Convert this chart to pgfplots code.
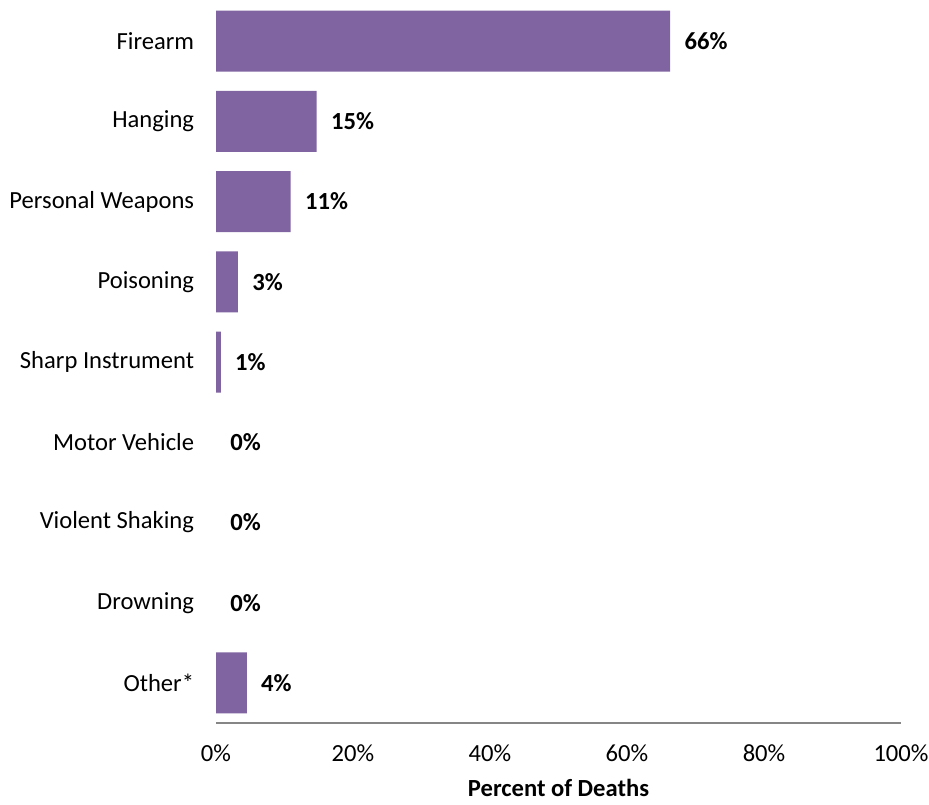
\documentclass[border=0pt]{standalone}
\usepackage{pgfplots}
\pgfplotsset{compat=1.18}
\usepackage{fontspec}
\setmainfont{Carlito}

\definecolor{barpurple}{HTML}{8064A2}
\definecolor{axisgray}{HTML}{868686}

\begin{document}
\begin{tikzpicture}[font=\fontsize{12.3pt}{14pt}\selectfont]
\useasboundingbox (0,0) rectangle (464.5pt,402pt);
\begin{axis}[
    at={(108pt,40.5pt)}, anchor=south west,
    scale only axis,
    width=342.5pt, height=361pt,
    xbar, bar width=30.5pt,
    xmin=0, xmax=100,
    ymin=-0.5, ymax=8.5,
    y dir=reverse,
    clip=false,
    separate axis lines,
    axis x line*=bottom,
    axis y line*=left,
    x axis line style={-, draw=axisgray, line width=1pt},
    y axis line style={draw=none},
    xtick={0,20,40,60,80,100},
    xticklabels={0\%,20\%,40\%,60\%,80\%,100\%},
    ytick={0,1,2,3,4,5,6,7,8},
    yticklabels={Firearm,Hanging,Personal Weapons,Poisoning,Sharp Instrument,Motor Vehicle,Violent Shaking,Drowning,Other*},
    tick style={draw=none},
    ticklabel style={font=\fontsize{12.3pt}{14pt}\selectfont},
    xticklabel style={anchor=base, inner sep=0pt, yshift=-19pt},
    yticklabel style={anchor=east, inner sep=0pt, xshift=-6.5pt},
    xlabel={\textbf{Percent of Deaths}},
    xlabel style={at={(axis description cs:0.5,0)}, anchor=base, inner sep=0pt, yshift=-36.5pt, font=\fontsize{12.3pt}{14pt}\selectfont},
    point meta=explicit symbolic,
    nodes near coords={\textbf{\pgfplotspointmeta\%}},
    nodes near coords style={anchor=west, inner sep=0pt, xshift=7pt, font=\fontsize{12.3pt}{14pt}\selectfont, text=black},
]
% bars with a value above zero
\addplot[fill=barpurple, draw=none, bar shift=0pt] coordinates {
    (66.3,0) [66]
    (14.7,1) [15]
    (10.9,2) [11]
    (3.2,3) [3]
    (0.7,4) [1]
    (4.5,8) [4]
};
% zero values: label only
\addplot[fill=none, draw=none, bar shift=0pt] coordinates {
    (0,5) [0]
    (0,6) [0]
    (0,7) [0]
};
\end{axis}
\end{tikzpicture}
\end{document}
